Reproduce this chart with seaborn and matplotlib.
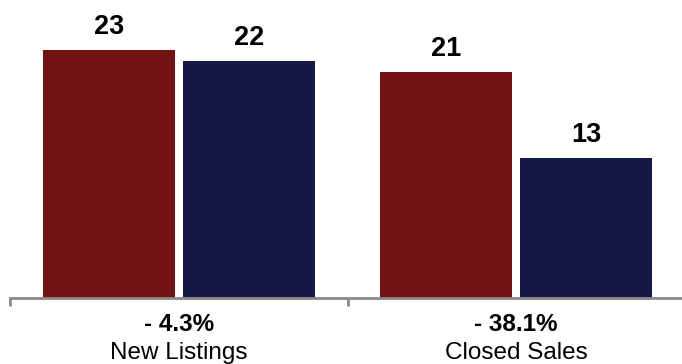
import pandas as pd
import matplotlib
matplotlib.use("Agg")
import matplotlib.pyplot as plt
import matplotlib.transforms as mtransforms
import seaborn as sns

# chart data
categories = ["New Listings", "Closed Sales"]
changes = ["- 4.3%", "- 38.1%"]
prior_year = [23, 21]
current_year = [22, 13]
series_names = ["Prior Year", "Current Year"]
colors = ["#731215", "#161845"]

df = pd.DataFrame({
    "category": categories * 2,
    "period": [series_names[0]] * 2 + [series_names[1]] * 2,
    "value": prior_year + current_year,
})

sns.set_style("white")
plt.rcParams["font.family"] = ["Liberation Sans", "DejaVu Sans"]
plt.rcParams["text.color"] = "black"

fig = plt.figure(figsize=(6.82, 3.64), dpi=100)
ax = fig.add_axes([10 / 682, 66 / 364, 675 / 682, 298 / 364])

sns.barplot(data=df, x="category", y="value", hue="period", order=categories,
            hue_order=series_names, palette=colors, width=0.83, gap=0.055,
            saturation=1, linewidth=0, ax=ax, legend=False)

ax.set_xlim(-0.5, 1.5)
ax.set_ylim(0, 27.64)

# value labels above bars
for cont in ax.containers:
    ax.bar_label(cont, labels=[f"{v:.0f}" for v in cont.datavalues],
                 padding=7, fontsize=19.5, fontweight="bold", color="black")

# axis styling
for side in ["top", "right", "left"]:
    ax.spines[side].set_visible(False)
ax.spines["bottom"].set_color("#8a8a8a")
ax.spines["bottom"].set_linewidth(2)
ax.set_yticks([])
ax.set_xticks([-0.5, 0.5, 1.5])
ax.set_xticklabels([])
ax.tick_params(axis="x", direction="out", length=6, width=2, color="#8a8a8a", bottom=True)
ax.set_xlabel("")
ax.set_ylabel("")

# category labels with percent change
trans = mtransforms.blended_transform_factory(ax.transData, ax.transAxes)
for i, (cat, chg) in enumerate(zip(categories, changes)):
    ax.annotate(chg, xy=(i, 0), xycoords=trans, xytext=(0, -19.2),
                textcoords="offset points", ha="center", va="center",
                fontsize=17.5, fontweight="bold", color="black", annotation_clip=False)
    ax.annotate(cat, xy=(i, 0), xycoords=trans, xytext=(0, -39.5),
                textcoords="offset points", ha="center", va="center",
                fontsize=17.5, color="black", annotation_clip=False)

fig.savefig("out.png", dpi=100)
